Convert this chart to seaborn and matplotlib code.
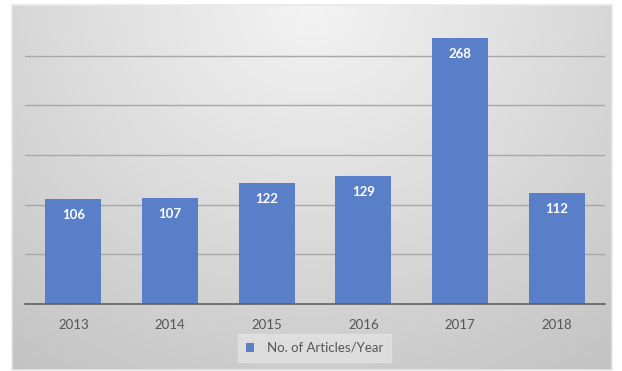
import numpy as np
import pandas as pd
import matplotlib
matplotlib.use("Agg")
import matplotlib.pyplot as plt
import seaborn as sns

years = ["2013", "2014", "2015", "2016", "2017", "2018"]
articles = [106, 107, 122, 129, 268, 112]
series_name = "No. of Articles/Year"

df = pd.DataFrame({"Year": years, "Articles": articles})

sns.set_style("white")
plt.rcParams["font.family"] = ["Lato", "DejaVu Sans"]

W, H = 622, 371
fig = plt.figure(figsize=(W / 100, H / 100), dpi=100)
fig.patch.set_facecolor("white")

# background panel with radial gradient
bg = fig.add_axes([12 / W, 1 - 370 / H, 600 / W, 365 / H], zorder=0)
yy, xx = np.mgrid[0:1:200j, 0:1:300j]
r = np.sqrt(((xx - 0.5) / 0.75) ** 2 + ((yy - 0.0) / 1.1) ** 2)
vals = 0.955 - 0.17 * np.clip(r, 0, 1.2)
bg.imshow(np.dstack([vals] * 3), aspect="auto", extent=[0, 1, 1, 0])
bg.set_xticks([]); bg.set_yticks([])
for s in bg.spines.values():
    s.set_color("#e8e8e8"); s.set_linewidth(1.2)

ax = fig.add_axes([25 / W, 1 - 304 / H, 580 / W, 298 / H], zorder=1)
ax.patch.set_alpha(0)
sns.barplot(data=df, x="Year", y="Articles", color="#5A7FC9", width=0.58,
            ax=ax, saturation=1, label=series_name, linewidth=0)
ax.set_ylim(0, 300)
ax.set_yticks([50, 100, 150, 200, 250])
ax.yaxis.grid(True, color="#a8a8a8", linewidth=1)
ax.set_axisbelow(True)
ax.tick_params(axis="y", left=False, labelleft=False)
ax.tick_params(axis="x", bottom=False, labelsize=9.5, colors="#555555", pad=7)
ax.set_xlabel(""); ax.set_ylabel("")
for side in ["top", "right", "left"]:
    ax.spines[side].set_visible(False)
ax.spines["bottom"].set_color("#606060")
ax.spines["bottom"].set_linewidth(1.2)

ax.bar_label(ax.containers[0], padding=-16, color="white",
             fontweight="bold", fontsize=9.5)

leg = ax.legend(loc="center", bbox_to_anchor=(314.5 / W, 1 - 348 / H),
                bbox_transform=fig.transFigure, frameon=True, fontsize=9.5,
                handlelength=0.6, handleheight=0.6, handletextpad=1.0,
                borderpad=0.6, borderaxespad=0)
leg.get_frame().set_facecolor("#e2e2e2")
leg.get_frame().set_edgecolor("#e2e2e2")
leg.get_frame().set_boxstyle("square", pad=0)
for t in leg.get_texts():
    t.set_color("#555555")

fig.savefig("out.png", dpi=100)
